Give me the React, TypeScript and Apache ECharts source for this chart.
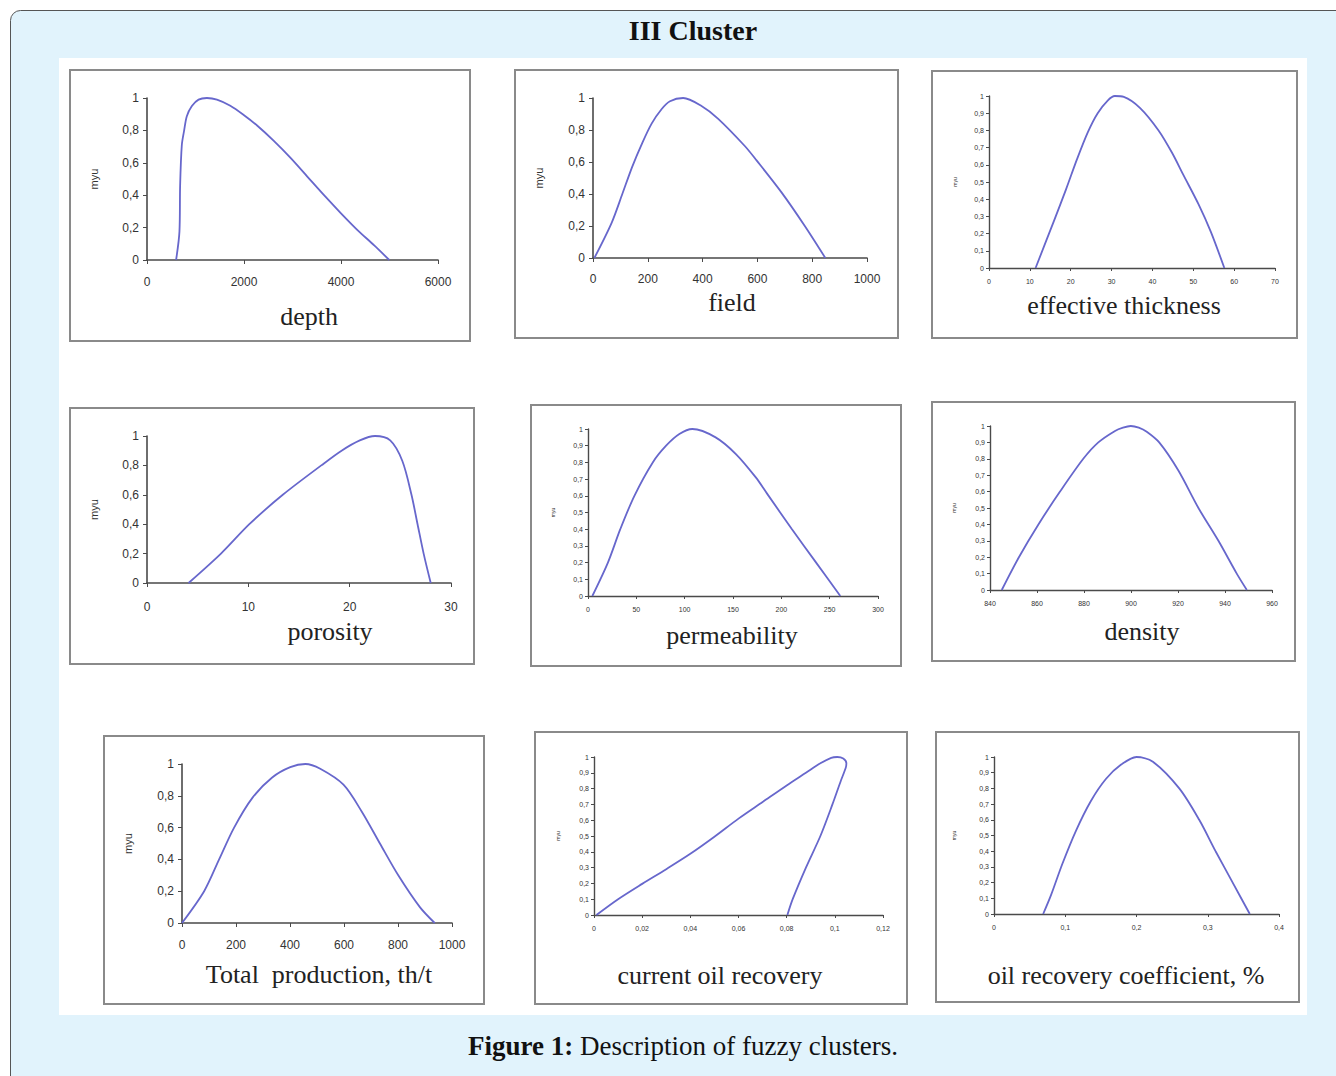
import React, { useEffect, useRef } from 'react';
import * as echarts from 'echarts';

// ---------- data ----------
const depthX = [600, 669, 683, 718, 766, 821, 925, 1063, 1235, 1442, 1718, 1994, 2270, 2615, 2960, 3305, 3650, 3995, 4340, 4685, 4996];
const depthY = [0, 0.175, 0.46, 0.71, 0.8, 0.887, 0.95, 0.99, 1, 0.99, 0.952, 0.895, 0.83, 0.735, 0.63, 0.515, 0.4, 0.29, 0.185, 0.09, 0];

const fieldX = [5, 68, 107, 143, 180, 214, 250, 281, 329, 396, 457, 554, 597, 688, 773, 848];
const fieldY = [0, 0.22, 0.4, 0.57, 0.72, 0.84, 0.93, 0.98, 1, 0.95, 0.87, 0.7, 0.61, 0.41, 0.2, 0];

const thickX = [11.4, 16, 18.9, 21.5, 24.2, 26.6, 29.1, 30.8, 33, 37, 41.5, 44.8, 47.6, 51.3, 54.3, 57.6];
const thickY = [0, 0.28, 0.46, 0.63, 0.79, 0.9, 0.975, 1, 0.995, 0.93, 0.8, 0.67, 0.54, 0.37, 0.21, 0];

const porX = [4.1, 7.3, 10.1, 13.4, 17.2, 19.2, 21, 22.5, 24, 25.2, 26.1, 26.7, 27.3, 28];
const porY = [0, 0.2, 0.4, 0.6, 0.8, 0.9, 0.97, 1, 0.97, 0.83, 0.6, 0.4, 0.2, 0];

const permX = [4.5, 20.6, 33.4, 48, 67, 80.8, 94.5, 108, 132, 153, 173.6, 185.6, 211, 236, 261];
const permY = [0, 0.2, 0.4, 0.6, 0.8, 0.9, 0.97, 1, 0.95, 0.85, 0.71, 0.61, 0.4, 0.2, 0];

const densX = [845, 852.3, 860.6, 869.8, 879.7, 886.1, 893.2, 896.6, 899.9, 903.3, 906.7, 912, 920.1, 928.7, 937.2, 945, 949.3];
const densY = [0, 0.2, 0.4, 0.6, 0.8, 0.9, 0.97, 0.99, 1, 0.99, 0.965, 0.9, 0.73, 0.5, 0.3, 0.1, 0];

const totX = [0, 82, 137.5, 193, 262, 334, 401, 457, 512, 598, 666, 733, 801, 881, 936];
const totY = [0, 0.2, 0.4, 0.6, 0.79, 0.915, 0.98, 1, 0.97, 0.87, 0.7, 0.5, 0.3, 0.1, 0];

const curX = [0.001, 0.01, 0.02, 0.03, 0.04, 0.05, 0.06, 0.07, 0.08, 0.088, 0.094, 0.0985, 0.101, 0.1035, 0.1048, 0.1045, 0.1025, 0.099, 0.094, 0.088, 0.0825, 0.0803];
const curY = [0, 0.1, 0.197, 0.29, 0.387, 0.495, 0.61, 0.715, 0.82, 0.9, 0.96, 0.995, 1, 0.99, 0.96, 0.93, 0.85, 0.7, 0.5, 0.3, 0.1, 0];

const orcX = [0.069, 0.08, 0.096, 0.115, 0.136, 0.157, 0.178, 0.2, 0.223, 0.26, 0.288, 0.311, 0.335, 0.359];
const orcY = [0, 0.12, 0.32, 0.53, 0.72, 0.86, 0.95, 1, 0.97, 0.8, 0.6, 0.4, 0.2, 0];

const panelNames = ['depth', 'field', 'effective thickness', 'porosity', 'permeability', 'density', 'Total  production, th/t', 'current oil recovery', 'oil recovery coefficient, %'];
const xRanges = [[0, 6000, 2000], [0, 1000, 200], [0, 70, 10], [0, 30, 10], [0, 300, 50], [840, 960, 20], [0, 1000, 200], [0, 0.12, 0.02], [0, 0.4, 0.1]];
const seriesX = [depthX, fieldX, thickX, porX, permX, densX, totX, curX, orcX];
const seriesY = [depthY, fieldY, thickY, porY, permY, densY, totY, curY, orcY];
const yLabel = 'myu';
const titleText = 'III Cluster';
const captionBold = 'Figure 1:';
const captionText = ' Description of fuzzy clusters.';

// ---------- layout ----------
type Lay = { frame: number[]; grid: number[]; big: boolean; lab: number[]; xm: number; gap: number; dec: number };
const layout: Lay[] = [
  { frame: [70, 70, 400, 271], grid: [147, 98, 291, 162], big: true, lab: [309, 316], xm: 16, gap: 48, dec: 0 },
  { frame: [515, 70, 383, 268], grid: [593, 98, 274, 160], big: true, lab: [732, 302], xm: 15, gap: 49, dec: 0 },
  { frame: [932, 71, 365, 267], grid: [989, 96, 286, 172], big: false, lab: [1124, 305], xm: 10, gap: 32, dec: 0 },
  { frame: [70, 408, 404, 256], grid: [147, 436, 304, 147], big: true, lab: [330, 631], xm: 18, gap: 48, dec: 0 },
  { frame: [531, 405, 370, 261], grid: [588, 429, 290, 167], big: false, lab: [732, 635], xm: 10, gap: 33, dec: 0 },
  { frame: [932, 402, 363, 259], grid: [990, 426, 282, 164], big: false, lab: [1142, 631], xm: 10, gap: 34, dec: 0 },
  { frame: [104, 736, 380, 268], grid: [182, 764, 270, 159], big: true, lab: [319, 974], xm: 16, gap: 49, dec: 0 },
  { frame: [535, 732, 372, 272], grid: [594, 757, 289, 158], big: false, lab: [720, 975], xm: 10, gap: 34, dec: 2 },
  { frame: [936, 732, 363, 270], grid: [994, 757, 285, 157], big: false, lab: [1126, 975], xm: 10, gap: 38, dec: 1 },
];

const comma = (v: number, d: number) => {
  const r = Math.round(v * Math.pow(10, d)) / Math.pow(10, d);
  return String(r).replace('.', ',');
};

const LINE = '#6767cc';
const AXIS = '#4a4a4a';
const TXT = '#333333';
const SERIF = '"Liberation Serif", "DejaVu Serif", serif';
const SANS = '"Liberation Sans", Arial, sans-serif';

function buildOption() {
  const grid: any[] = [];
  const xAxis: any[] = [];
  const yAxis: any[] = [];
  const series: any[] = [];
  const graphic: any[] = [];

  graphic.push({ type: 'rect', shape: { x: 10.5, y: 10.5, width: 1345, height: 1100, r: 10 }, style: { fill: '#e1f3fc', stroke: '#555', lineWidth: 1 }, z: 0 });
  graphic.push({ type: 'rect', shape: { x: 59, y: 58, width: 1248, height: 957 }, style: { fill: '#ffffff' }, z: 1 });
  graphic.push({ type: 'text', x: 693, y: 30, style: { text: titleText, font: `bold 28px ${SERIF}`, fill: '#111', align: 'center', verticalAlign: 'middle' }, z: 3 });
  graphic.push({
    type: 'text', x: 683, y: 1046,
    style: {
      text: `{b|${captionBold}}{n|${captionText}}`, align: 'center', verticalAlign: 'middle',
      rich: { b: { font: `bold 27px ${SERIF}`, fill: '#111' }, n: { font: `27px ${SERIF}`, fill: '#111' } },
    }, z: 3,
  });

  layout.forEach((L, i) => {
    const [fx, fy, fw, fh] = L.frame;
    graphic.push({ type: 'rect', shape: { x: fx, y: fy, width: fw, height: fh }, style: { fill: '#fff', stroke: '#8a8a8a', lineWidth: 2 }, z: 2 });
    graphic.push({ type: 'text', x: L.lab[0], y: L.lab[1], style: { text: panelNames[i], font: `26px ${SERIF}`, fill: '#222', align: 'center', verticalAlign: 'middle' }, z: 3 });

    const [gl, gt, gw, gh] = L.grid;
    grid.push({ left: gl, top: gt, width: gw, height: gh, outerBoundsMode: 'none', containLabel: false, z: 5 });
    const fs = L.big ? 12 : 7;
    const [mn, mx, st] = xRanges[i];
    xAxis.push({
      type: 'value', gridIndex: i, min: mn, max: mx, interval: st,
      axisLine: { onZero: false, lineStyle: { color: AXIS, width: L.big ? 1.6 : 1.4 } },
      axisTick: { show: true, length: L.big ? 4 : 3, lineStyle: { color: AXIS } },
      splitLine: { show: false },
      axisLabel: { fontSize: fs, color: TXT, fontFamily: SANS, margin: L.xm, formatter: (v: number) => comma(v, L.dec), showMinLabel: true, showMaxLabel: true, hideOverlap: false },
      z: 5,
    });
    yAxis.push({
      type: 'value', gridIndex: i, min: 0, max: 1, interval: L.big ? 0.2 : 0.1,
      name: yLabel, nameLocation: 'middle', nameRotate: 90, nameGap: L.gap,
      nameTextStyle: { fontSize: L.big ? 11 : 5, color: TXT, fontFamily: SANS },
      axisLine: { show: true, lineStyle: { color: AXIS, width: L.big ? 1.6 : 1.4 } },
      axisTick: { show: true, length: L.big ? 4 : 3, lineStyle: { color: AXIS } },
      splitLine: { show: false },
      axisLabel: { fontSize: fs, color: TXT, fontFamily: SANS, margin: L.big ? 8 : 5, formatter: (v: number) => comma(v, 1) },
      z: 5,
    });
    series.push({
      type: 'line', xAxisIndex: i, yAxisIndex: i,
      data: seriesX[i].map((x, k) => [x, seriesY[i][k]]),
      showSymbol: false, smooth: 0.3, clip: false,
      lineStyle: { color: LINE, width: 1.8 },
      z: 6,
    });
  });

  return { animation: false, backgroundColor: '#ffffff', grid, xAxis, yAxis, series, graphic };
}

export default function App() {
  const ref = useRef<HTMLDivElement>(null);
  useEffect(() => {
    if (!ref.current) return;
    const chart = echarts.init(ref.current, undefined, { renderer: 'svg' });
    chart.setOption(buildOption() as any);
    return () => chart.dispose();
  }, []);
  return <div ref={ref} style={{ position: 'absolute', left: 0, top: 0, width: 1336, height: 1076 }} />;
}
